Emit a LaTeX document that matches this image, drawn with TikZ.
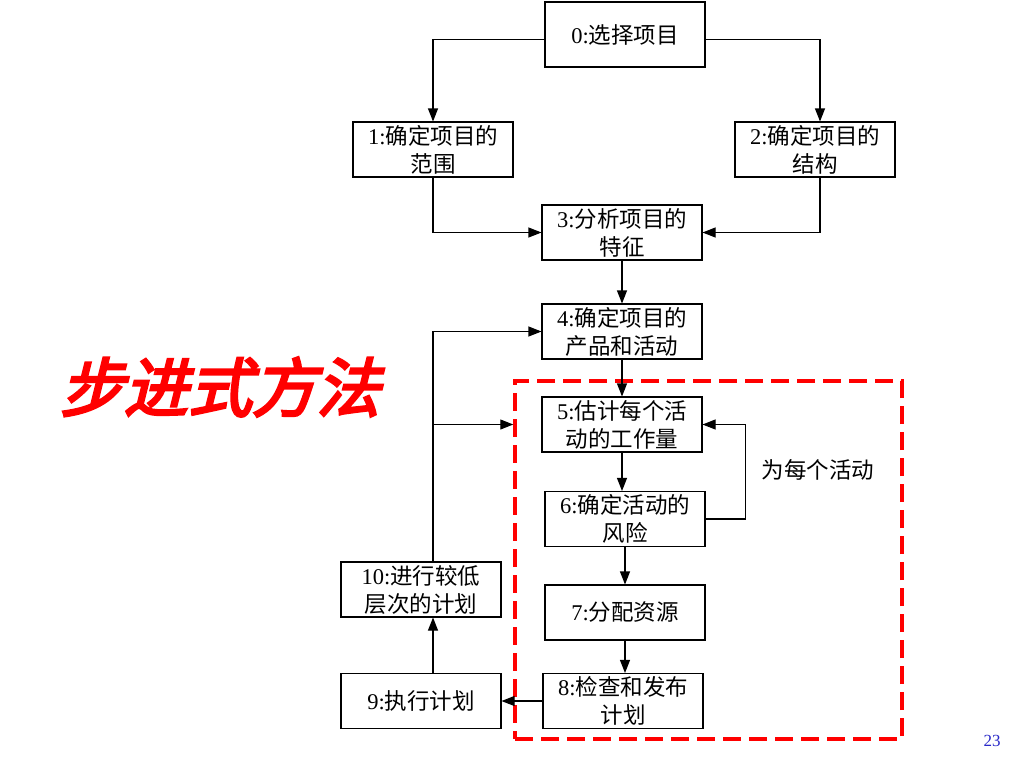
\documentclass[tikz,border=0pt]{standalone}
\usepackage{fontspec}
\setmainfont{Liberation Serif}
\newfontfamily\cjk{Noto Sans CJK SC}
\newfontfamily\titlefont[FakeSlant=0.25,FakeBold=4]{Noto Sans CJK SC}
\usetikzlibrary{arrows.meta}
\usepackage{xcolor}
\definecolor{framered}{RGB}{255,0,0}
\definecolor{ink}{RGB}{0,0,0}
\definecolor{pagenum}{RGB}{40,40,200}

\begin{document}
\begin{tikzpicture}[x=1pt,y=-1pt,
  stepbox/.style={draw=ink,line width=1.1pt,minimum width=160pt,minimum height=55pt,
    align=center,inner sep=1pt,font=\fontsize{22.5}{28}\selectfont},
  arr/.style={draw=ink,line width=1.1pt,-{Triangle[length=13pt,width=10pt]}},
  loopframe/.style={draw=framered,line width=3.5pt,dash pattern=on 18pt off 8pt,
    minimum width=387pt,minimum height=358pt}]
  \useasboundingbox (0,0) rectangle (1026,763);
  % boxes
  \node[stepbox,minimum height=65pt] (n0) at (625,34.5){0:\cjk 选择项目};
  \node[stepbox] (n1) at (433,149.5){1:\cjk 确定项目的\\\cjk 范围};
  \node[stepbox] (n2) at (815,149.5){2:\cjk 确定项目的\\\cjk 结构};
  \node[stepbox] (n3) at (622,232.5){3:\cjk 分析项目的\\\cjk 特征};
  \node[stepbox] (n4) at (622,331.5){4:\cjk 确定项目的\\\cjk 产品和活动};
  \node[stepbox] (n5) at (622,424.5){5:\cjk 估计每个活\\\cjk 动的工作量};
  \node[stepbox] (n6) at (625,519){6:\cjk 确定活动的\\\cjk 风险};
  \node[stepbox] (n7) at (625,612.5){7:\cjk 分配资源};
  \node[stepbox] (n8) at (623,701){8:\cjk 检查和发布\\\cjk 计划};
  \node[stepbox] (n9) at (421,701){9:\cjk 执行计划};
  \node[stepbox] (n10) at (421,589.5){10:\cjk 进行较低\\\cjk 层次的计划};
  \node[loopframe] (loop) at (708.5,560){};
  % connectors
  \draw[arr] ([yshift=-5pt]n0.west) -| (n1.north);
  \draw[arr] ([yshift=-5pt]n0.east) -| ([xshift=5pt]n2.north);
  \draw[arr] (n1.south) |- (n3.west);
  \draw[arr] ([xshift=5pt]n2.south) |- (n3.east);
  \foreach \a/\b in {n3/n4,n4/n5,n5/n6,n6/n7,n7/n8}
    \draw[arr] (\a.south) -- (\a.south |- \b.north);
  \draw[arr] (n6.east) -- ++(40,0) |- (n5.east);
  \draw[arr] (n8.west) -- (n9.east);
  \draw[arr] (n9.north -| n1) -- (n10.south -| n1);
  \draw[arr] (n10.north -| n1) |- (n4.west);
  \draw[arr] (n1 |- n5.west) -- (loop.west |- n5.west);
  % labels
  \node[font=\cjk\fontsize{22.5}{26}\selectfont] (each) at (818,470){为每个活动};
  \node[font=\titlefont\fontsize{64}{68}\selectfont,text=framered] (title) at (220,387){步进式方法};
  \node[font=\fontsize{17}{20}\selectfont,text=pagenum] (page) at (992,741){23};
\end{tikzpicture}
\end{document}
